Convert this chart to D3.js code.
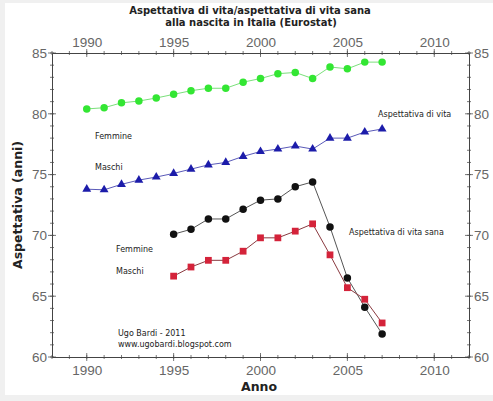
<!DOCTYPE html>
<html>
<head>
<meta charset="utf-8">
<script src="https://cdn.jsdelivr.net/npm/d3@7"></script>
<style>
body { margin: 0; background: #f0f0f0; }
svg { display: block; font-family: "DejaVu Sans", sans-serif; }
.tick-label { fill: #666; font-size: 13.5px; }
.note { fill: #222; font-size: 8px; }
</style>
</head>
<body>
<script>
// years for the two groups of series
var yearsLife = d3.range(1990, 2008);
var yearsHealthy = d3.range(1995, 2008);

// aspettativa di vita
var lifeFemmine = [80.4, 80.5, 80.9, 81.05, 81.3, 81.6, 81.9, 82.1, 82.1, 82.6, 82.9, 83.3, 83.4, 82.9, 83.85, 83.7, 84.25, 84.25];
var lifeMaschi = [73.8, 73.75, 74.2, 74.55, 74.8, 75.1, 75.45, 75.8, 76.0, 76.5, 76.9, 77.1, 77.35, 77.1, 78.0, 78.0, 78.5, 78.75];

// aspettativa di vita sana
var healthyFemmine = [70.1, 70.5, 71.35, 71.35, 72.15, 72.9, 73.0, 74.0, 74.4, 70.7, 66.5, 64.1, 61.9];
var healthyMaschi = [66.65, 67.4, 67.95, 67.95, 68.7, 69.8, 69.8, 70.35, 70.95, 68.4, 65.7, 64.75, 62.8];

var xTicks = [1990, 1995, 2000, 2005, 2010];
var yTicks = [60, 65, 70, 75, 80, 85];

var width = 493, height = 401;
var margin = {top: 53, right: 24, bottom: 44, left: 52};
var chartWidth = width - margin.left - margin.right;
var chartHeight = height - margin.top - margin.bottom;

var svg = d3.select('body').append('svg')
    .attr('width', width)
    .attr('height', height);

// white sheet, thin grey border left/top/bottom
svg.append('rect')
    .attr('x', 5).attr('y', 3)
    .attr('width', width - 5).attr('height', height - 9)
    .style('fill', '#fff');

var scaleX = d3.scaleLinear().domain([1988, 2012]).range([0, chartWidth]);
var scaleY = d3.scaleLinear().domain([60, 85]).range([chartHeight, 0]);

var panel = svg.append('g')
    .attr('transform', 'translate(' + margin.left + ',' + margin.top + ')');

// axes: ticks cross the frame line, minor every unit
var frameAxis = function(axis, pos){
    var g = panel.append('g').attr('transform', pos);
    g.call(axis);
    g.select('.domain').style('stroke', '#444');
    g.selectAll('.tick text').attr('class', 'tick-label').style('font-family', null).style('font-size', null);
    return g;
};

var minorX = d3.range(1988, 2013);
var minorY = d3.range(60, 86);

[0, chartHeight].forEach(function(y0){
    panel.selectAll(null).data(minorX).enter().append('line')
        .attr('x1', function(d){ return scaleX(d); })
        .attr('x2', function(d){ return scaleX(d); })
        .attr('y1', y0 - 2).attr('y2', y0 + 2)
        .style('stroke', '#555').style('stroke-width', 0.8);
    panel.selectAll(null).data(xTicks).enter().append('line')
        .attr('x1', function(d){ return scaleX(d); })
        .attr('x2', function(d){ return scaleX(d); })
        .attr('y1', y0 - 4).attr('y2', y0 + 4)
        .style('stroke', '#555').style('stroke-width', 0.8);
});
[0, chartWidth].forEach(function(x0){
    panel.selectAll(null).data(minorY).enter().append('line')
        .attr('y1', function(d){ return scaleY(d); })
        .attr('y2', function(d){ return scaleY(d); })
        .attr('x1', x0 - 2).attr('x2', x0 + 2)
        .style('stroke', '#555').style('stroke-width', 0.8);
    panel.selectAll(null).data(yTicks).enter().append('line')
        .attr('y1', function(d){ return scaleY(d); })
        .attr('y2', function(d){ return scaleY(d); })
        .attr('x1', x0 - 4).attr('x2', x0 + 4)
        .style('stroke', '#555').style('stroke-width', 0.8);
});

frameAxis(d3.axisBottom(scaleX).tickValues(xTicks).tickFormat(d3.format('d')).tickSize(0).tickPadding(8),
    'translate(0,' + chartHeight + ')');
frameAxis(d3.axisTop(scaleX).tickValues(xTicks).tickFormat(d3.format('d')).tickSize(0).tickPadding(6),
    'translate(0,0)');
frameAxis(d3.axisLeft(scaleY).tickValues(yTicks).tickSize(0).tickPadding(5), 'translate(0,0)');
frameAxis(d3.axisRight(scaleY).tickValues(yTicks).tickSize(0).tickPadding(5), 'translate(' + chartWidth + ',0)');

// series
var series = [
    {years: yearsLife, values: lifeFemmine, color: '#33e633', line: '#7be07b', shape: d3.symbolCircle, size: 44},
    {years: yearsLife, values: lifeMaschi, color: '#1c1caa', line: '#5a5ab8', shape: d3.symbolTriangle, size: 34},
    {years: yearsHealthy, values: healthyFemmine, color: '#111', line: '#555', shape: d3.symbolCircle, size: 44},
    {years: yearsHealthy, values: healthyMaschi, color: '#d4233a', line: '#8a3a40', shape: d3.symbolSquare, size: 46}
];

var line = d3.line()
    .x(function(d){ return scaleX(d[0]); })
    .y(function(d){ return scaleY(d[1]); });

series.forEach(function(s){
    var pts = s.years.map(function(y, i){ return [y, s.values[i]]; });
    panel.append('path')
        .attr('d', line(pts))
        .style('fill', 'none')
        .style('stroke', s.line)
        .style('stroke-width', 1);
    panel.selectAll(null).data(pts).enter().append('path')
        .attr('d', d3.symbol().type(s.shape).size(s.size))
        .attr('transform', function(d){ return 'translate(' + scaleX(d[0]) + ',' + scaleY(d[1]) + ')'; })
        .style('fill', s.color);
});

// annotations
var notes = [
    ['Femmine', 95, 139], ['Maschi', 95, 170],
    ['Aspettativa di vita', 378, 117],
    ['Femmine', 116, 252], ['Maschi', 116, 274],
    ['Aspettativa di vita sana', 349, 235],
    ['Ugo Bardi - 2011', 118, 336], ['www.ugobardi.blogspot.com', 118, 347]
];
svg.selectAll('text.note').data(notes).enter().append('text')
    .attr('class', 'note')
    .attr('x', function(d){ return d[1]; })
    .attr('y', function(d){ return d[2]; })
    .text(function(d){ return d[0]; });

// titles
svg.append('text')
    .attr('x', 250).attr('y', 14)
    .attr('text-anchor', 'middle')
    .style('font-size', '10px').style('font-weight', 'bold').style('fill', '#222')
    .text('Aspettativa di vita/aspettativa di vita sana');
svg.append('text')
    .attr('x', 251).attr('y', 26)
    .attr('text-anchor', 'middle')
    .style('font-size', '10px').style('font-weight', 'bold').style('fill', '#222')
    .text('alla nascita in Italia (Eurostat)');
svg.append('text')
    .attr('x', 259).attr('y', 391)
    .attr('text-anchor', 'middle')
    .style('font-size', '12.5px').style('font-weight', 'bold').style('fill', '#222')
    .text('Anno');
svg.append('text')
    .attr('transform', 'translate(22,' + (margin.top + chartHeight / 2) + ') rotate(-90)')
    .attr('text-anchor', 'middle')
    .style('font-size', '12.5px').style('font-weight', 'bold').style('fill', '#222')
    .text('Aspettativa (anni)');
</script>
</body>
</html>
